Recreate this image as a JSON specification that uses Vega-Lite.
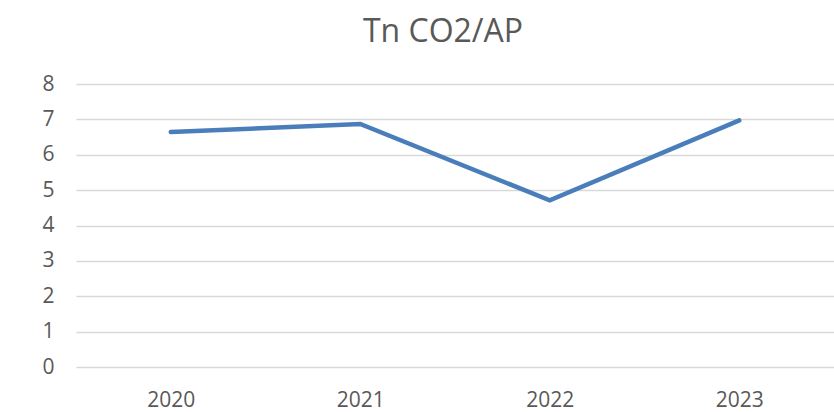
{
  "$schema": "https://vega.github.io/schema/vega-lite/v6.json",
  "width": 758,
  "height": 283,
  "autosize": {"type": "none"},
  "padding": {"left": 76, "top": 84, "right": 0, "bottom": 45},
  "background": "white",
  "title": {
    "text": "Tn CO2/AP",
    "font": "Open Sans",
    "fontSize": 32,
    "fontWeight": "normal",
    "color": "#595959",
    "anchor": "middle",
    "dx": -12,
    "offset": 24
  },
  "config": {"view": {"stroke": null}},
  "data": {
    "values": [
      {"year": "2020", "value": 6.64},
      {"year": "2021", "value": 6.87},
      {"year": "2022", "value": 4.71},
      {"year": "2023", "value": 6.97}
    ]
  },
  "mark": {"type": "line", "color": "#4a7ebb", "strokeWidth": 4.5, "strokeCap": "round", "strokeJoin": "miter"},
  "encoding": {
    "x": {
      "field": "year",
      "type": "ordinal",
      "scale": {"paddingInner": 0, "paddingOuter": 0.5, "type": "point"},
      "axis": {
        "title": null,
        "labelAngle": 0,
        "ticks": false,
        "domain": false,
        "grid": false,
        "labelFont": "Open Sans",
        "labelFontSize": 21,
        "labelColor": "#595959",
        "labelPadding": 22
      }
    },
    "y": {
      "field": "value",
      "type": "quantitative",
      "scale": {"domain": [0, 8], "nice": false},
      "axis": {
        "title": null,
        "values": [0, 1, 2, 3, 4, 5, 6, 7, 8],
        "ticks": false,
        "domain": false,
        "grid": true,
        "gridColor": "#d9d9d9",
        "gridWidth": 1.5,
        "labelFont": "Open Sans",
        "labelFontSize": 21,
        "labelColor": "#595959",
        "labelPadding": 22
      }
    }
  }
}
